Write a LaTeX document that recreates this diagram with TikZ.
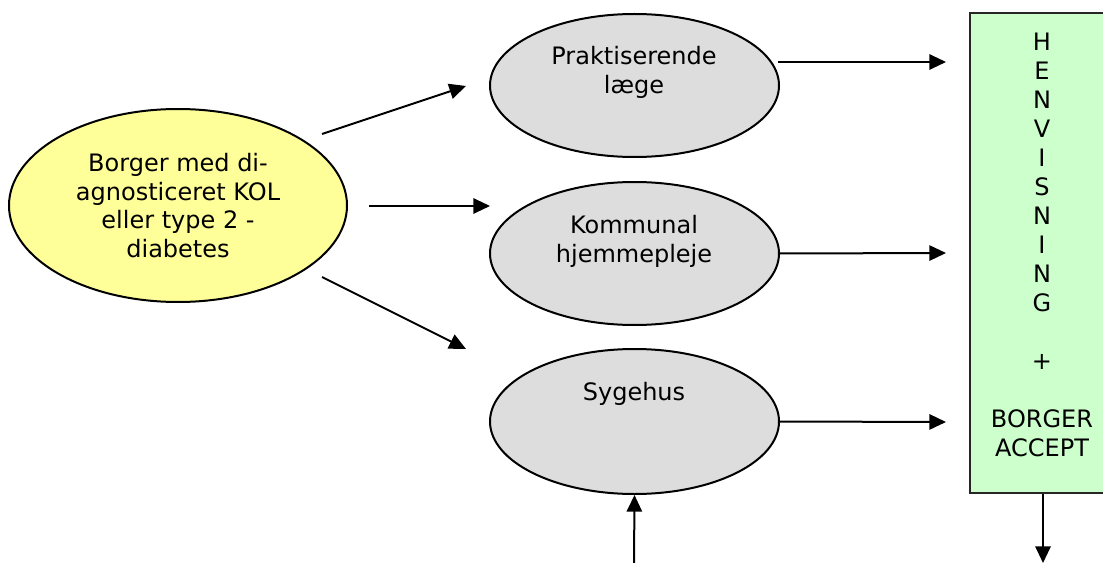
\documentclass[tikz,border=0pt]{standalone}
\usepackage{fontspec}
\setmainfont{DejaVu Sans}
\usetikzlibrary{shapes.geometric,arrows.meta}
\definecolor{yel}{HTML}{FFFF99}
\definecolor{gry}{HTML}{DDDDDD}
\definecolor{grn}{HTML}{CCFFCC}
\tikzset{
  px/.style={x=0.75pt,y=-0.75pt},
  oval/.style={ellipse,draw=black,line width=1.5pt,inner sep=0pt},
  lbl/.style={align=center,inner sep=0pt,font=\fontsize{18pt}{21.6pt}\selectfont},
  conn/.style={line width=1.5pt,-{Triangle[length=12.5pt,width=11.5pt]}},
}
\begin{document}
\begin{tikzpicture}[px]
\useasboundingbox (0,0) rectangle (1103,563);
\clip (0,0) rectangle (1103,563);
% nodes
\node[oval,fill=yel,minimum width=253.5pt,minimum height=144.75pt] (borger) at (178,205.5) {};
\node[lbl] (borgertxt) at (178,205.5) {Borger med di-\\agnosticeret KOL\\eller type 2 -\\diabetes};
\node[oval,fill=gry,minimum width=216.75pt,minimum height=107.25pt] (prak) at (634.5,85.5) {};
\node[lbl] (praktxt) at (634,72.5) {Praktiserende\\læge};
\node[oval,fill=gry,minimum width=216.75pt,minimum height=107.25pt] (komm) at (634.5,253.5) {};
\node[lbl] (kommtxt) at (634,241) {Kommunal\\hjemmepleje};
\node[oval,fill=gry,minimum width=216.75pt,minimum height=108.75pt] (syge) at (634.5,421.5) {};
\node[lbl] (sygetxt) at (634,394) {Sygehus};
\node[draw=black!85,line width=1.5pt,fill=grn,minimum width=108pt,minimum height=360pt,inner sep=0pt] (box) at (1042,253) {};
\node[lbl,font=\fontsize{18pt}{21.75pt}\selectfont] (boxtxt) at (1042,244.5) {H\\E\\N\\V\\I\\S\\N\\I\\N\\G\\~\\+\\~\\BORGER\\ACCEPT};
% connector end points
\coordinate (a1s) at (322,134);
\coordinate (a1e) at (466,86);
\coordinate (a2s) at (369,206);
\coordinate (a2e) at (490,206);
\coordinate (a3s) at (322,277);
\coordinate (a3e) at (466,349);
\coordinate (b1s) at (778,62);
\coordinate (b1e) at (946,62);
\coordinate (b2e) at (946,253);
\coordinate (b3e) at (946,422);
\coordinate (upS) at (634,563);
\coordinate (downE) at (1043,563);
% connectors
\draw[conn] (a1s) -- (a1e);
\draw[conn] (a2s) -- (a2e);
\draw[conn] (a3s) -- (a3e);
\draw[conn] (b1s) -- (b1e);
\draw[conn] (komm.east) -- (b2e);
\draw[conn] (syge.east) -- (b3e);
\draw[conn] (upS) -- (syge.south);
\draw[conn] (box.south -| downE) -- (downE);
\end{tikzpicture}
\end{document}
